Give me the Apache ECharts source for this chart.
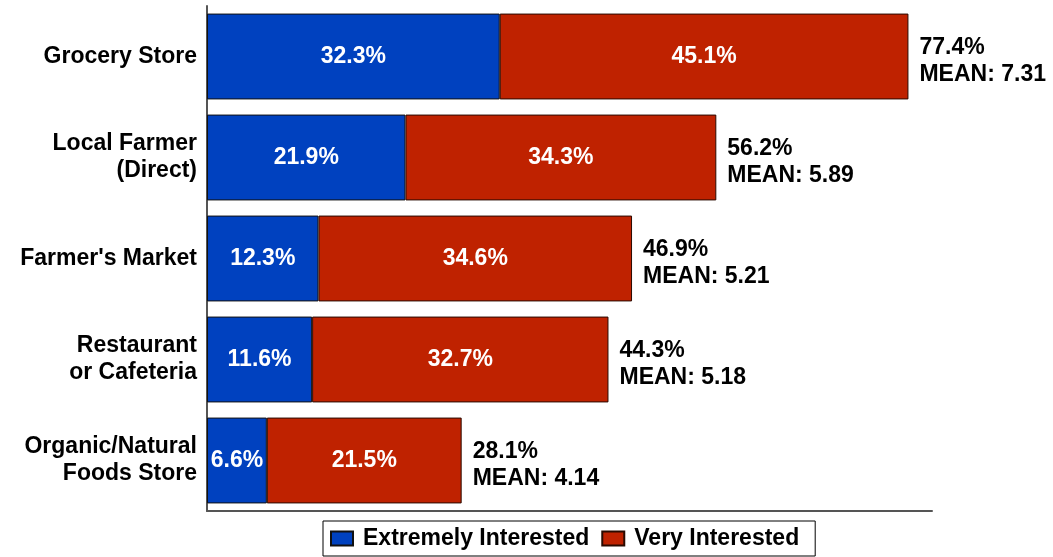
<!DOCTYPE html>
<html>
<head>
<meta charset="utf-8">
<script src="https://cdn.jsdelivr.net/npm/echarts@6/dist/echarts.min.js"></script>
<style>
html,body{margin:0;padding:0;background:#fff;}
#chart{width:1053px;height:557px;}
</style>
</head>
<body>
<div id="chart"></div>
<script>
const categories = ["Grocery Store", "Local Farmer\n(Direct)", "Farmer's Market", "Restaurant\nor Cafeteria", "Organic/Natural\nFoods Store"];
const extremely = [32.3, 21.9, 12.3, 11.6, 6.6];
const very = [45.1, 34.3, 34.6, 32.7, 21.5];
const totals = ["77.4%", "56.2%", "46.9%", "44.3%", "28.1%"];
const means = ["7.31", "5.89", "5.21", "5.18", "4.14"];
const seriesNames = ["Extremely Interested", "Very Interested"];

const FONT = 'Liberation Sans, Arial, sans-serif';
const FS = 23;
const chart = echarts.init(document.getElementById('chart'));
chart.setOption({
  animation: false,
  backgroundColor: '#ffffff',
  textStyle: { fontFamily: FONT },
  grid: { left: 207, right: 121, top: 6, bottom: 46, containLabel: false },
  legend: {
    data: seriesNames,
    left: 323,
    top: 521,
    orient: 'horizontal',
    icon: 'rect',
    itemWidth: 22,
    itemHeight: 14,
    itemGap: 12,
    padding: [6, 16, 6, 7],
    borderColor: '#000',
    borderWidth: 1,
    textStyle: { fontFamily: FONT, fontSize: FS, fontWeight: 'bold', color: '#000', padding: [0, 0, 0, 5] }
  },
  xAxis: {
    type: 'value',
    min: 0,
    max: 80,
    axisLine: { show: true, lineStyle: { color: '#555', width: 2 } },
    axisTick: { show: false },
    axisLabel: { show: false },
    splitLine: { show: false }
  },
  yAxis: {
    type: 'category',
    data: categories,
    inverse: true,
    axisLine: { show: true, lineStyle: { color: '#555', width: 2 } },
    axisTick: { show: false },
    axisLabel: {
      margin: 10,
      color: '#000',
      fontFamily: FONT,
      fontSize: FS,
      fontWeight: 'bold',
      lineHeight: 27,
      align: 'right'
    }
  },
  series: [
    {
      name: seriesNames[0],
      type: 'bar',
      stack: 'a',
      data: extremely,
      barCategoryGap: '15%',
      itemStyle: { color: '#0041BF', borderColor: '#111', borderWidth: 1 },
      label: {
        show: true, position: 'inside', color: '#fff', fontFamily: FONT,
        fontSize: FS, fontWeight: 'bold', formatter: p => p.value.toFixed(1) + '%'
      }
    },
    {
      name: seriesNames[1],
      type: 'bar',
      stack: 'a',
      data: very,
      itemStyle: { color: '#BF2200', borderColor: '#2a0a00', borderWidth: 1 },
      label: {
        show: true, position: 'inside', color: '#fff', fontFamily: FONT,
        fontSize: FS, fontWeight: 'bold', formatter: p => p.value.toFixed(1) + '%'
      }
    },
    {
      name: 'Total',
      type: 'bar',
      stack: 'a',
      data: categories.map(() => 0),
      itemStyle: { color: 'transparent', borderWidth: 0 },
      label: {
        show: true, position: 'right', distance: 11, offset: [0, 5],
        color: '#000', fontFamily: FONT, fontSize: FS, fontWeight: 'bold',
        lineHeight: 27, align: 'left',
        formatter: p => totals[p.dataIndex] + '\nMEAN: ' + means[p.dataIndex]
      }
    }
  ]
});
</script>
</body>
</html>
